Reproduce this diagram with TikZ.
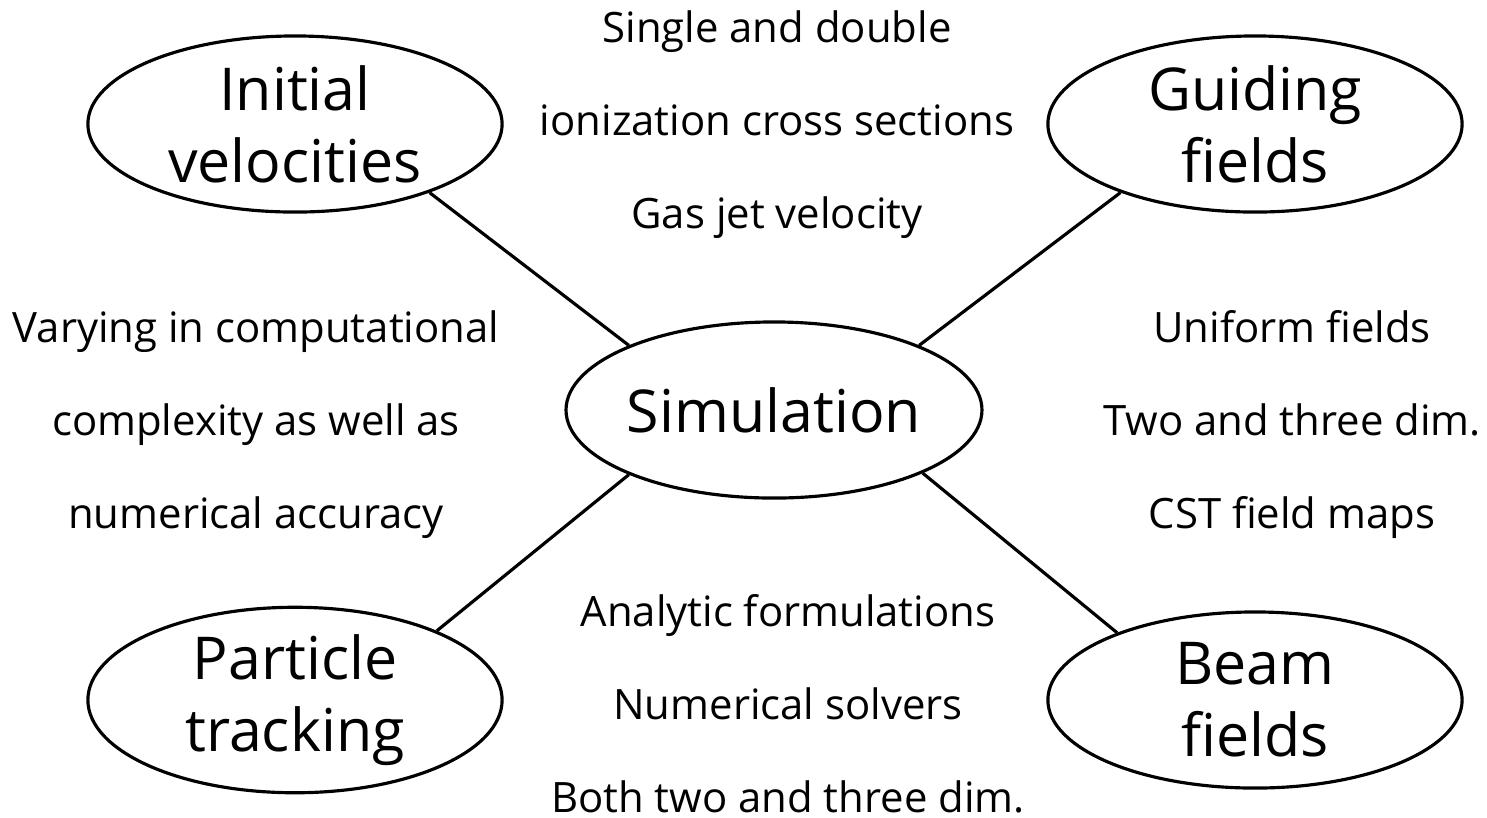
\documentclass[tikz,border=0pt]{standalone}
\usepackage{fontspec}
\setmainfont{Open Sans}
\usetikzlibrary{shapes.geometric}

\begin{document}
\begin{tikzpicture}[x=0.01cm, y=-0.01cm,
    topic/.style={draw, ellipse, line width=0.9pt, minimum width=4.14cm,
        minimum height=1.76cm, inner sep=0pt, align=center,
        font=\fontsize{16.8}{20.5}\selectfont},
    remark/.style={align=center, anchor=base, font=\fontsize{11.9}{26.4}\selectfont},
    link/.style={line width=0.9pt}]
    \useasboundingbox (0,0) rectangle (1487,817);

    \node[topic] (sim) at (774,410) {Simulation};
    \node[topic] (ini) at (295,124) {Initial\\velocities};
    \node[topic] (guide) at (1255,124) {Guiding\\fields};
    \node[topic] (track) at (295,700) {Particle\\tracking};
    \node[topic] (beam) at (1255,700) {Beam\\fields};

    % base anchor = baseline of the last line
    \node[remark] (cross) at (777,228) {Single and double\\ionization cross sections\\Gas jet velocity};
    \node[remark] (cost) at (256,528) {Varying in computational\\complexity as well as\\numerical accuracy};
    \node[remark] (fieldkinds) at (1292,528) {Uniform fields\\Two and three dim.\\CST field maps};
    \node[remark] (solvers) at (788,812) {Analytic formulations\\Numerical solvers\\Both two and three dim.};

    \draw[link] (ini.-27) -- (sim.156);
    \draw[link] (guide.-153) -- (sim.24);
    \draw[link] (track.26) -- (sim.-156);
    \draw[link] (beam.154) -- (sim.-23);
\end{tikzpicture}
\end{document}
